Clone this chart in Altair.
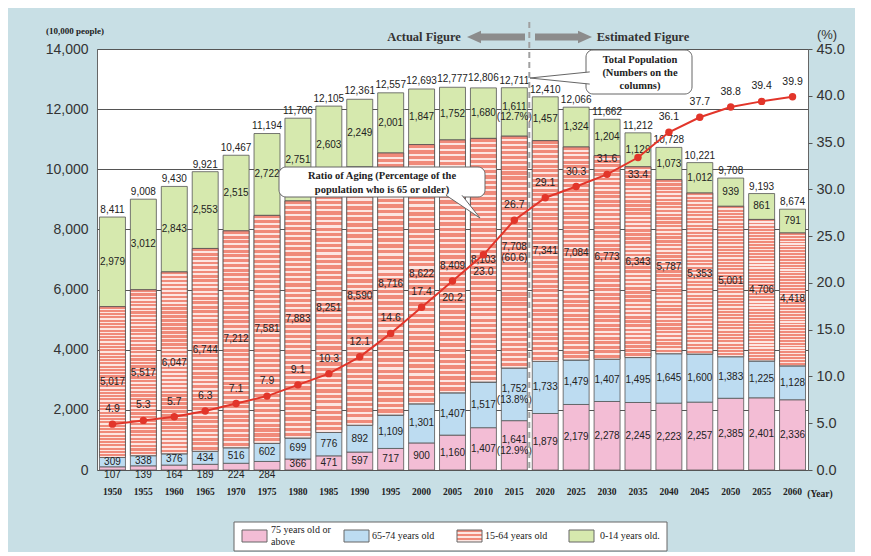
import altair as alt
import pandas as pd

years = [1950, 1955, 1960, 1965, 1970, 1975, 1980, 1985, 1990, 1995, 2000, 2005,
         2010, 2015, 2020, 2025, 2030, 2035, 2040, 2045, 2050, 2055, 2060]
age75 = [107, 139, 164, 189, 224, 284, 366, 471, 597, 717, 900, 1160,
         1407, 1641, 1879, 2179, 2278, 2245, 2223, 2257, 2385, 2401, 2336]
age65 = [309, 338, 376, 434, 516, 602, 699, 776, 892, 1109, 1301, 1407,
         1517, 1752, 1733, 1479, 1407, 1495, 1645, 1600, 1383, 1225, 1128]
age15 = [5017, 5517, 6047, 6744, 7212, 7581, 7883, 8251, 8590, 8716, 8622, 8409,
         8103, 7708, 7341, 7084, 6773, 6343, 5787, 5353, 5001, 4706, 4418]
age0 = [2979, 3012, 2843, 2553, 2515, 2722, 2751, 2603, 2249, 2001, 1847, 1752,
        1680, 1611, 1457, 1324, 1204, 1129, 1073, 1012, 939, 861, 791]
totals = [8411, 9008, 9430, 9921, 10467, 11194, 11706, 12105, 12361, 12557, 12693, 12777,
          12806, 12711, 12410, 12066, 11662, 11212, 10728, 10221, 9708, 9193, 8674]
ratio = [4.9, 5.3, 5.7, 6.3, 7.1, 7.9, 9.1, 10.3, 12.1, 14.6, 17.4, 20.2,
         23.0, 26.7, 29.1, 30.3, 31.6, 33.4, 36.1, 37.7, 38.8, 39.4, 39.9]
groups = ["75 years old or above", "65-74 years old", "15-64 years old", "0-14 years old."]
share_2015_labels = ["(12.9%)", "(13.8%)", "(60.6)", "(12.7%)"]

colors = ["#f3bdd5", "#bddcf1", "#f4a596", "#d6e9ae"]
salmon = "#f08a7a"
stripe_white = "#fde6e2"
SANS = "Liberation Sans"
SERIF = "Liberation Serif"

# ---- build stacked table ----
rows = []
series = [age75, age65, age15, age0]
for i, yr in enumerate(years):
    cum = 0
    for g, vals in enumerate(series):
        v = vals[i]
        mid = cum + v / 2
        if g == 0 and v < 300:
            mid = -170
        lab = f"{v:,}"
        multi = yr == 2015
        if multi:
            lab = lab + "\n" + share_2015_labels[g]
        rows.append({"year": yr, "group": groups[g], "order": g, "y0": cum,
                     "y1": cum + v, "mid": mid, "label": lab, "multi": multi})
        cum += v
seg = pd.DataFrame(rows)
tot = pd.DataFrame({"year": years, "total": totals,
                    "tlabel": [f"{t:,}" for t in totals]})
rat = pd.DataFrame({"year": years, "ratio": ratio,
                    "rlabel": [f"{r:.1f}" for r in ratio]})
below_years = [2005, 2010, 2035]
rat["pos"] = ["below" if y in below_years else "above" for y in years]

x_axis = alt.Axis(labelAngle=0, labelFont=SERIF, labelFontWeight="bold",
                  labelFontSize=9.5, labelColor="#222", ticks=False,
                  domain=False, labelPadding=16)
xscale = alt.Scale(paddingInner=0.16, paddingOuter=0.08)


def X():
    return alt.X("year:O", title=None, scale=xscale, axis=x_axis)


yscale = alt.Scale(domain=[0, 14000], nice=False)
left_axis = alt.Axis(values=list(range(0, 14001, 2000)), format=",.0f",
                     labelFont=SANS, labelFontSize=14, labelColor="#333",
                     ticks=False, domain=False, labelPadding=9,
                     grid=True, gridColor="#555", gridWidth=1, title=None)


def YL(field):
    return alt.Y(field, scale=yscale, title=None, axis=left_axis)


def stripe_gradient(n):
    stops = []
    for i in range(n):
        a = i / n
        b = (i + 0.62) / n
        c = (i + 1) / n
        stops += [alt.GradientStop(color=salmon, offset=a),
                  alt.GradientStop(color=salmon, offset=b),
                  alt.GradientStop(color=stripe_white, offset=b),
                  alt.GradientStop(color=stripe_white, offset=c)]
    return alt.Gradient(gradient="linear", stops=stops, x1=0, x2=0, y1=0, y2=1)


bars = alt.Chart(seg).mark_bar(stroke="#555", strokeWidth=0.8).encode(
    x=X(),
    y=YL("y0:Q"),
    y2="y1:Q",
    color=alt.Color("group:N", scale=alt.Scale(domain=groups, range=colors),
                    legend=None),
)

striped = alt.Chart(seg).transform_filter(
    alt.datum.group == "15-64 years old"
).mark_bar(fill=stripe_gradient(46), stroke="#555", strokeWidth=0.8).encode(
    x=X(), y=YL("y0:Q"), y2="y1:Q",
)

seg_text = alt.Chart(seg).transform_filter(~alt.datum.multi).mark_text(
    font=SANS, fontSize=10, color="#222", baseline="middle"
).encode(x=X(), y=YL("mid:Q"), text="label:N")

seg_text_ml = alt.Chart(seg).transform_filter(alt.datum.multi).mark_text(
    font=SANS, fontSize=10, color="#222", lineBreak="\n", lineHeight=10.5,
    baseline="middle", dy=-5
).encode(x=X(), y=YL("mid:Q"), text="label:N")

tot_text = alt.Chart(tot).mark_text(
    font=SANS, fontSize=10, color="#222", dy=-7, baseline="middle"
).encode(x=X(), y=YL("total:Q"), text="tlabel:N")

divider = alt.Chart(pd.DataFrame({"year": [2015]})).mark_rule(
    color="#a0a0a0", strokeWidth=2, strokeDash=[6, 4], xOffset=2
).encode(
    x=alt.X("year:O", title=None, scale=xscale, axis=x_axis, bandPosition=1),
    y=alt.value(-27), y2=alt.value(421),
)

one = alt.Data(values=[{"a": 1}])


def txt(text, x, y, **kw):
    return alt.Chart(one).mark_text(text=text, **kw).encode(
        x=alt.value(x), y=alt.value(y))


def box(x, x2, y, y2, **kw):
    return alt.Chart(one).mark_rect(**kw).encode(
        x=alt.value(x), x2=alt.value(x2), y=alt.value(y), y2=alt.value(y2))


arrow_col = "#8c8c8c"
annos = [
    txt("(10,000 people)", -22, -18, font=SERIF, fontSize=9, fontWeight="bold", color="#222"),
    txt("(%)", 730, -14, font=SANS, fontSize=13, color="#333"),
    txt("(Year)", 723, 445, font=SERIF, fontSize=9.5, fontWeight="bold", color="#222"),
    txt("Actual Figure", 327, -12, font=SERIF, fontSize=12.5, fontWeight="bold", color="#333"),
    txt("Estimated Figure", 546, -12, font=SERIF, fontSize=12.5, fontWeight="bold", color="#333"),
    alt.Chart(one).mark_rule(color=arrow_col, strokeWidth=7).encode(
        x=alt.value(382), x2=alt.value(428), y=alt.value(-12)),
    alt.Chart(one).mark_point(shape="M-1,0L1,-0.9L1,0.9Z", size=196, filled=True,
                              color=arrow_col, opacity=1).encode(
        x=alt.value(377), y=alt.value(-12)),
    alt.Chart(one).mark_rule(color=arrow_col, strokeWidth=7).encode(
        x=alt.value(438), x2=alt.value(484), y=alt.value(-12)),
    alt.Chart(one).mark_point(shape="M1,0L-1,-0.9L-1,0.9Z", size=196, filled=True,
                              color=arrow_col, opacity=1).encode(
        x=alt.value(488), y=alt.value(-12)),
    # Total population callout
    box(489, 595, 1, 45, fill="white", stroke="#666", strokeWidth=1, cornerRadius=7),
    alt.Chart(one).mark_point(shape="M1.06,-0.21L-1,0L1.06,0.21", size=3364, filled=False,
                              fill="white", fillOpacity=1, stroke="#666", strokeWidth=1,
                              opacity=1).encode(x=alt.value(462), y=alt.value(29)),
    txt(["Total Population", "(Numbers on the", "columns)"], 543, 11, font=SERIF,
        fontSize=10.5, fontWeight="bold", color="#222", lineHeight=13, baseline="middle"),
    # Ratio of aging callout
    box(182, 388, 118, 148, fill="white", stroke="#666", strokeWidth=1, cornerRadius=7),
    alt.Chart(one).mark_point(shape="M-1,-0.72L1,0.62L-0.06,-0.72", size=1156, filled=False,
                              fill="white", fillOpacity=1, stroke="#666", strokeWidth=1,
                              opacity=1).encode(x=alt.value(366), y=alt.value(158.5)),
    txt(["Ratio of Aging (Percentage of the", "population who is 65 or older)"], 285, 127,
        font=SERIF, fontSize=10.5, fontWeight="bold", color="#222", lineHeight=14,
        baseline="middle"),
    # legend
    box(137, 570, 473, 502, fill="white", stroke="#666", strokeWidth=1),
    box(145, 170, 481, 493, fill=colors[0], stroke="#666", strokeWidth=1),
    box(247, 272, 481, 493, fill=colors[1], stroke="#666", strokeWidth=1),
    box(360, 385, 481, 493, fill=stripe_gradient(3), stroke="#666", strokeWidth=1),
    box(472, 497, 481, 493, fill=colors[3], stroke="#666", strokeWidth=1),
    txt(["75 years old or", "above"], 174, 481, font=SERIF, fontSize=10, color="#222",
        align="left", baseline="middle", lineHeight=12),
    txt(groups[1], 275, 487, font=SERIF, fontSize=10, color="#222", align="left",
        baseline="middle"),
    txt(groups[2], 388, 487, font=SERIF, fontSize=10, color="#222", align="left",
        baseline="middle"),
    txt(groups[3], 503, 487, font=SERIF, fontSize=10, color="#222", align="left",
        baseline="middle"),
]

left = alt.layer(bars, striped, seg_text, seg_text_ml, tot_text, divider, *annos)

rscale = alt.Scale(domain=[0, 45], nice=False)
right_axis = alt.Axis(orient="right", values=list(range(0, 46, 5)), format=".1f",
                      labelFont=SANS, labelFontSize=14.5, labelColor="#333",
                      tickSize=4, tickColor="#555", labelPadding=4,
                      domain=False, grid=False, title=None)


def YR():
    return alt.Y("ratio:Q", scale=rscale, title=None, axis=right_axis)


line = alt.Chart(rat).mark_line(color="#e2352a", strokeWidth=2).encode(x=X(), y=YR())
pts = alt.Chart(rat).mark_circle(color="#e2352a", size=55, opacity=1).encode(x=X(), y=YR())
r_above = alt.Chart(rat).transform_filter(alt.datum.pos == "above").mark_text(
    font=SANS, fontSize=10.5, color="#222", dy=-15, baseline="middle"
).encode(x=X(), y=YR(), text="rlabel:N")
r_below = alt.Chart(rat).transform_filter(alt.datum.pos == "below").mark_text(
    font=SANS, fontSize=10.5, color="#222", dy=17, baseline="middle"
).encode(x=X(), y=YR(), text="rlabel:N")

right = alt.layer(line, pts, r_above, r_below)

chart = alt.layer(left, right).resolve_scale(y="independent").properties(
    width=711, height=421,
    padding={"left": 37, "top": 13, "right": 10, "bottom": 0},
    background="#c8dfe5",
).configure_view(fill="white", stroke="#666", strokeWidth=1)

chart.save("out.html", embed_options={"renderer": "svg", "actions": False})
